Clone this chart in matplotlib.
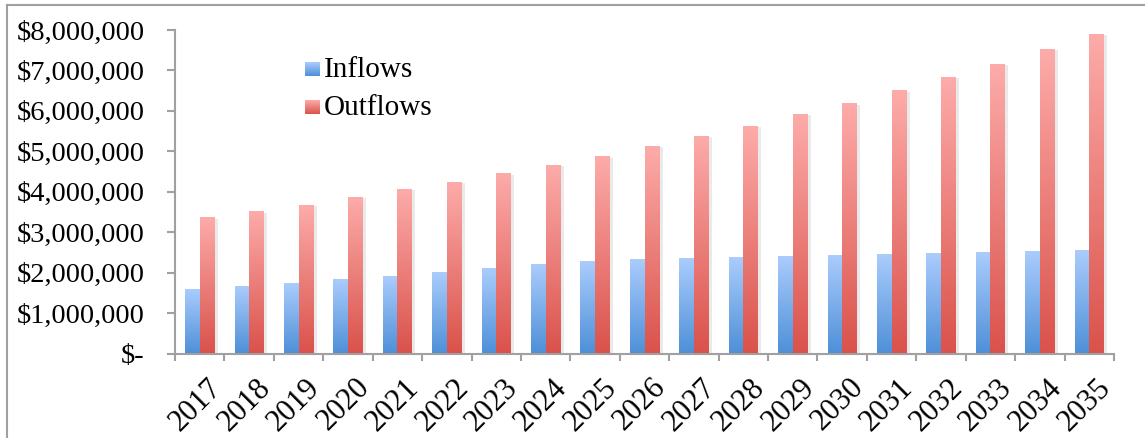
import matplotlib
matplotlib.use("Agg")
import matplotlib.pyplot as plt
import matplotlib.ticker as mtick
import matplotlib.patheffects as pe
from matplotlib.colors import LinearSegmentedColormap
from matplotlib.lines import Line2D
import numpy as np

years = [str(y) for y in range(2017, 2036)]
inflows = [1600000, 1670000, 1740000, 1840000, 1920000, 2020000, 2110000, 2210000, 2290000, 2340000,
           2360000, 2390000, 2410000, 2440000, 2460000, 2490000, 2510000, 2530000, 2560000]
outflows = [3370000, 3520000, 3670000, 3870000, 4070000, 4240000, 4460000, 4660000, 4880000, 5130000,
            5380000, 5630000, 5920000, 6190000, 6510000, 6840000, 7160000, 7530000, 7900000]

plt.rcParams['font.family'] = ['Liberation Serif', 'DejaVu Serif']

# light at the top, dark at the bottom
blue_cm = LinearSegmentedColormap.from_list('blu', ['#4f90d8', '#abcdfd'])
red_cm = LinearSegmentedColormap.from_list('red', ['#da524b', '#fdacaa'])
grad = np.linspace(0, 1, 256).reshape(-1, 1)

fig = plt.figure(figsize=(11.45, 4.38), dpi=100)
ax = fig.add_axes([175/1145, 1-353.5/438, 939/1145, 323.5/438])

x = np.arange(len(years))
w = 0.295
shadow = [pe.SimplePatchShadow(offset=(2.5, -1), shadow_rgbFace='#909090', alpha=0.18), pe.Normal()]

def grad_bars(xs, vals, cmap, base):
    bars = ax.bar(xs, vals, w, align='edge', color=base, zorder=2, path_effects=shadow)
    for b in bars:
        x0, y1 = b.get_x(), b.get_height()
        im = ax.imshow(grad, cmap=cmap, origin='lower', aspect='auto',
                       extent=[x0, x0 + w, 0, y1], zorder=3)
        im.set_clip_path(b)
    return bars

grad_bars(x - w, inflows, blue_cm, '#4f90d8')
grad_bars(x, outflows, red_cm, '#da524b')

ax.set_xlim(-0.5, len(years) - 0.5)
ax.set_ylim(0, 8000000)

def money(v, pos):
    if v == 0:
        return '$-'
    return '${:,.0f}'.format(v)

ax.yaxis.set_major_locator(mtick.MultipleLocator(1000000))
ax.yaxis.set_major_formatter(mtick.FuncFormatter(money))
ax.set_xticks(x)
ax.set_xticks(np.arange(-0.5, len(years), 1), minor=True)
ax.set_xticklabels(years, rotation=45, ha='right', rotation_mode='anchor')

for s in ['top', 'right']:
    ax.spines[s].set_visible(False)
for s in ['left', 'bottom']:
    ax.spines[s].set_color('#a0a0a0')
    ax.spines[s].set_linewidth(1.5)

ax.tick_params(axis='y', length=6, width=1.5, color='#a0a0a0', pad=16, labelsize=20.5)
ax.tick_params(axis='x', which='major', length=0, pad=14, labelsize=22)
ax.tick_params(axis='x', which='minor', length=5, width=1.5, color='#a0a0a0')
for lbl in ax.get_xticklabels():
    lbl.set_transform(lbl.get_transform() + matplotlib.transforms.ScaledTranslation(5/72, 0, fig.dpi_scale_trans))

# legend with gradient swatches
for i, (name, cmap) in enumerate([('Inflows', blue_cm), ('Outflows', red_cm)]):
    cy = 69 + 38 * i
    sw = fig.add_axes([305/1145, 1-(cy+7)/438, 15/1145, 14/438])
    sw.imshow(grad, cmap=cmap, origin='lower', aspect='auto')
    sw.axis('off')
    fig.text(324/1145, 1-(cy+1)/438, name, fontsize=21, va='center', ha='left')

# outer chart frame
fig.add_artist(Line2D([7/1145, 7/1145], [0, 1-5/438], transform=fig.transFigure, color='#a0a0a0', lw=1.5))
fig.add_artist(Line2D([7/1145, 1], [1-5/438, 1-5/438], transform=fig.transFigure, color='#a0a0a0', lw=1.5))

fig.savefig('out.png', dpi=100)
